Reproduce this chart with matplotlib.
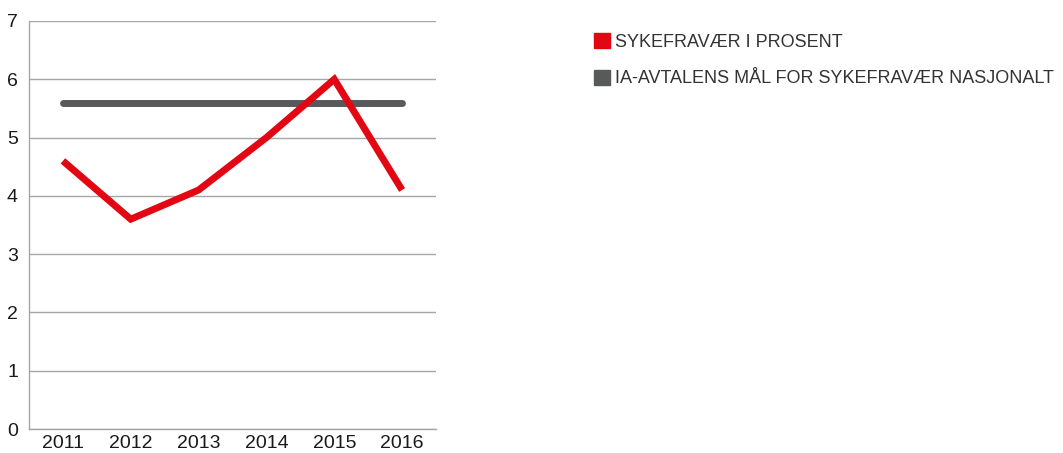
from matplotlib import pyplot as plt
from matplotlib.patches import Patch

years = ["2011", "2012", "2013", "2014", "2015", "2016"]
sykefravaer = [4.6, 3.6, 4.1, 5.0, 6.0, 4.1]
ia_maal = [5.6, 5.6, 5.6, 5.6, 5.6, 5.6]
labels = ["SYKEFRAVÆR I PROSENT", "IA-AVTALENS MÅL FOR SYKEFRAVÆR NASJONALT"]

red = "#e30613"
grey = "#58595b"
grid_col = "#a6a6a6"

plt.rcParams['font.family'] = ['Liberation Sans', 'DejaVu Sans']

fig = plt.figure(figsize=(10.63, 4.53), dpi=100)
ax = fig.add_axes([29 / 1063, 24 / 453, (436 - 29) / 1063, (429 - 21) / 453])

x = list(range(len(years)))
ax.plot(x, ia_maal, color=grey, lw=5, solid_capstyle='round', zorder=3)
ax.plot(x, sykefravaer, color=red, lw=5, solid_joinstyle='miter', solid_capstyle='butt', zorder=4)

ax.set_xlim(-0.5, 5.5)
ax.set_ylim(0, 7)
ax.set_xticks(x)
ax.set_xticklabels(years)
ax.set_yticks(range(8))
ax.tick_params(axis='both', length=0, labelsize=14, colors="#1a1a1a")
ax.tick_params(axis='y', pad=8)
ax.tick_params(axis='x', pad=4)
ax.yaxis.grid(True, color=grid_col, lw=1)
ax.set_axisbelow(True)
for s in ['top', 'right']:
    ax.spines[s].set_visible(False)
for s in ['left', 'bottom']:
    ax.spines[s].set_color(grid_col)
    ax.spines[s].set_linewidth(1)

# legend on the right
handles = [Patch(color=red), Patch(color=grey)]
fig.legend(handles, labels, loc='upper left', bbox_to_anchor=(594 / 1063, 1 - 33 / 453),
           frameon=False, fontsize=13, handlelength=0.9, handleheight=0.9,
           handletextpad=0.25, labelspacing=1.05, borderaxespad=0, borderpad=0,
           labelcolor="#333333")

plt.savefig("out.png", dpi=100)
